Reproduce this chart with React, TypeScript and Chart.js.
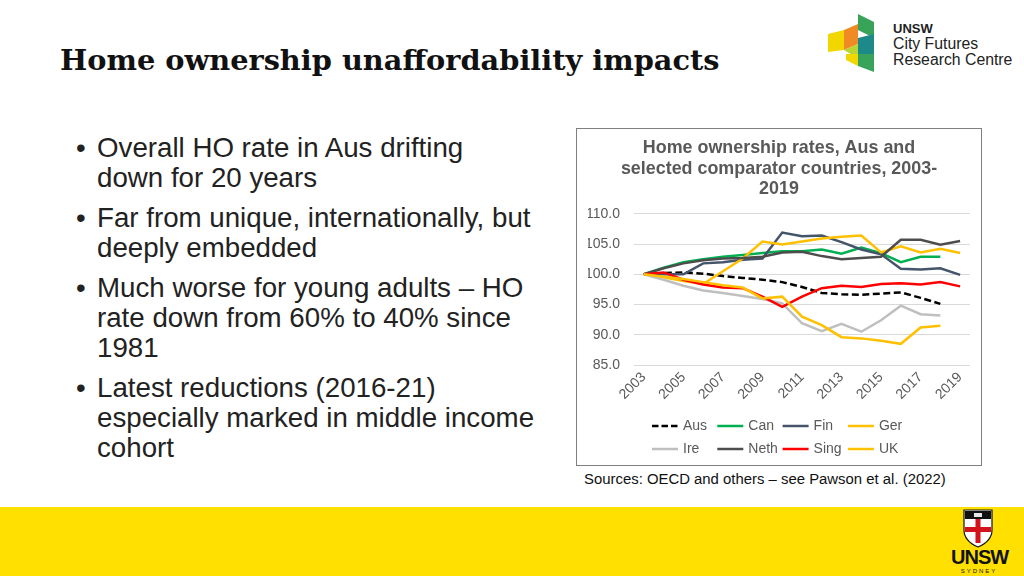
import React, { useEffect, useRef } from "react";
import { Chart, registerables } from "chart.js";

Chart.register(...registerables);

const years = ["2003","2004","2005","2006","2007","2008","2009","2010","2011","2012","2013","2014","2015","2016","2017","2018","2019"];
const aus = [100, 100.2, 100.3, 100.1, 99.7, 99.4, 99.1, 98.7, 97.9, 96.9, 96.7, 96.6, 96.8, 97.0, 96.1, 95.1];
const can = [100, 101.1, 102.0, 102.5, 102.9, 103.2, 103.5, 103.8, 103.8, 104.1, 103.4, 104.4, 103.5, 102.0, 102.9, 102.9];
const fin = [100, 100.0, 100.0, 101.8, 102.0, 102.4, 102.6, 106.9, 106.3, 106.4, 105.3, 104.1, 103.3, 100.9, 100.8, 101.0, 99.9];
const ger = [100, 99.5, 98.9, 98.4, 100.5, 102.6, 105.4, 104.9, 105.4, 105.9, 106.2, 106.4, 103.6, 104.6, 103.6, 104.2, 103.5];
const ire = [100, 99.1, 98.1, 97.3, 96.9, 96.4, 95.9, 95.2, 91.9, 90.6, 91.8, 90.5, 92.4, 94.8, 93.4, 93.2];
const neth = [100, 101.0, 101.8, 102.3, 102.6, 102.7, 102.9, 103.6, 103.7, 103.0, 102.5, 102.7, 102.9, 105.7, 105.7, 104.9, 105.5];
const sing = [100, 100.3, 99.1, 98.3, 97.8, 97.7, 96.3, 94.6, 96.3, 97.7, 98.1, 97.9, 98.4, 98.5, 98.3, 98.7, 98.0];
const uk = [100, 99.6, 99.2, 98.7, 98.2, 97.8, 96.0, 96.3, 93.0, 91.6, 89.6, 89.4, 89.0, 88.5, 91.2, 91.5];

const seriesNames = ["Aus", "Can", "Fin", "Ger", "Ire", "Neth", "Sing", "UK"];
const seriesData = [aus, can, fin, ger, ire, neth, sing, uk];
const seriesColors = ["#000000", "#00B050", "#44546A", "#FFC000", "#BFBFBF", "#4d4d4d", "#FF0000", "#FFC000"];

const yTicksMin = 85;
const yTicksMax = 110;
const yStep = 5;

const titleLines = ["Home ownership rates, Aus and", "selected comparator countries, 2003-", "2019"];

const FONT = "'Liberation Sans', Arial, sans-serif";

const legendPlugin = {
  id: "gridLegend",
  afterDraw(chart: any) {
    const ctx = chart.ctx;
    const area = chart.chartArea;
    const x0 = area.left + 18;
    const y0 = area.bottom + 61;
    const colW = 65.3;
    const rowH = 23;
    const lineW = 26;
    chart.data.datasets.forEach((ds: any, i: number) => {
      const col = i % 4;
      const row = Math.floor(i / 4);
      const x = x0 + col * colW;
      const y = y0 + row * rowH;
      ctx.save();
      ctx.strokeStyle = ds.borderColor;
      ctx.lineWidth = 2.5;
      ctx.setLineDash(ds.borderDash ? [6.5, 3] : []);
      ctx.beginPath();
      ctx.moveTo(x, y);
      ctx.lineTo(x + lineW, y);
      ctx.stroke();
      ctx.restore();
      ctx.save();
      ctx.fillStyle = "#595959";
      ctx.font = `14px ${FONT}`;
      ctx.textBaseline = "middle";
      ctx.fillText(ds.label, x + lineW + 5, y);
      ctx.restore();
    });
  },
};

function HOChart() {
  const ref = useRef<HTMLCanvasElement | null>(null);
  useEffect(() => {
    if (!ref.current) return;
    const chart = new Chart(ref.current, {
      type: "line",
      data: {
        labels: years,
        datasets: seriesNames.map((name, i) => ({
          label: name,
          data: seriesData[i],
          borderColor: seriesColors[i],
          backgroundColor: seriesColors[i],
          borderWidth: 2.5,
          borderDash: name === "Aus" ? [7, 3.5] : undefined,
          pointRadius: 0,
          tension: 0,
          fill: false,
          order: seriesNames.length - i,
        })),
      },
      options: {
        animation: false,
        responsive: false,
        maintainAspectRatio: false,
        layout: { padding: { left: 11, right: 11, top: 0, bottom: 55 } },
        plugins: {
          legend: { display: false },
          tooltip: { enabled: false },
          title: {
            display: true,
            text: titleLines,
            color: "#595959",
            font: { family: FONT, size: 17.9, weight: "bold", lineHeight: 1.15 },
            padding: { top: 9, bottom: 14 },
          },
        },
        scales: {
          x: {
            type: "category",
            offset: true,
            grid: { display: false, drawTicks: false },
            border: { display: false },
            ticks: {
              autoSkip: false,
              maxRotation: 45,
              minRotation: 45,
              padding: 4,
              color: "#595959",
              font: { family: FONT, size: 14 },
              callback: (_v: any, i: number) => (i % 2 === 0 ? years[i] : ""),
            },
            afterFit: (s: any) => { s.height = 45; },
          },
          y: {
            min: yTicksMin,
            max: yTicksMax,
            grid: { color: "#d9d9d9", drawTicks: false, lineWidth: 1 },
            border: { display: false },
            ticks: {
              stepSize: yStep,
              padding: 14,
              color: "#595959",
              font: { family: FONT, size: 14 },
              callback: (v: any) => Number(v).toFixed(1),
            },
            afterFit: (s: any) => { s.width = 46; },
          },
        },
      },
      plugins: [legendPlugin],
    });
    return () => chart.destroy();
  }, []);
  return <canvas ref={ref} width={404} height={336} style={{ display: "block", width: 404, height: 336 }} />;
}

const bullets = [
  { top: 133, lines: ["Overall HO rate in Aus drifting", "down for 20 years"] },
  { top: 203, lines: ["Far from unique, internationally, but", "deeply embedded"] },
  { top: 273, lines: ["Much worse for young adults \u2013 HO", "rate down from 60% to 40% since", "1981"] },
  { top: 373, lines: ["Latest reductions (2016-21)", "especially marked in middle income", "cohort"] },
];

function CityLogo() {
  return (
    <svg width={60} height={66} viewBox="0 0 60 66" style={{ position: "absolute", left: 824, top: 10 }}>
      <polygon points="34,4 50,12 50,28 34,20" fill="#3aa35a" />
      <polygon points="20,20 34,14 34,34 20,40" fill="#f08a24" />
      <polygon points="4,24 20,20 20,40 4,42" fill="#f2d600" />
      <polygon points="20,40 34,34 44,40 30,46" fill="#b9d532" />
      <polygon points="34,28 50,24 50,44 34,44" fill="#1d8a8a" />
      <polygon points="34,44 50,44 50,62 34,56" fill="#37a35b" />
      <polygon points="22,44 34,44 34,56 22,50" fill="#f2d600" />
    </svg>
  );
}

function Crest() {
  return (
    <svg width={34} height={40} viewBox="0 0 34 40" style={{ position: "absolute", left: 961, top: 508 }}>
      <path d="M3,2 H31 V22 C31,31 24,36 17,39 C10,36 3,31 3,22 Z" fill="#ffffff" stroke="#111" strokeWidth={1.2} />
      <rect x={4} y={3} width={26} height={8} fill="#111" />
      <rect x={14.5} y={11} width={5} height={24} fill="#d3121b" />
      <rect x={4} y={19} width={26} height={5} fill="#d3121b" />
      <rect x={13} y={5} width={8} height={4} fill="#e8e8e8" />
    </svg>
  );
}

export default function App() {
  const textStyle: React.CSSProperties = {
    position: "absolute",
    fontFamily: FONT,
    fontSize: 27.7,
    lineHeight: "30px",
    color: "#222",
    whiteSpace: "nowrap",
  };
  return (
    <div style={{ position: "fixed", left: 0, top: 0, width: 1024, height: 576, background: "#fff", overflow: "hidden" }}>
      <div
        style={{
          position: "absolute",
          left: 60,
          top: 43,
          fontFamily: "'DejaVu Serif', serif",
          fontWeight: "bold",
          fontSize: 28.8,
          lineHeight: "34px",
          color: "#111",
          whiteSpace: "nowrap",
        }}
      >
        Home ownership unaffordability impacts
      </div>

      <CityLogo />
      <div style={{ position: "absolute", left: 893, top: 21, fontFamily: FONT, fontWeight: "bold", fontSize: 13, lineHeight: "16px", color: "#222" }}>UNSW</div>
      <div style={{ position: "absolute", left: 893, top: 36, fontFamily: FONT, fontSize: 15.8, lineHeight: "16px", color: "#222", whiteSpace: "nowrap" }}>City Futures</div>
      <div style={{ position: "absolute", left: 893, top: 52, fontFamily: FONT, fontSize: 15.8, lineHeight: "16px", color: "#222", whiteSpace: "nowrap" }}>Research Centre</div>

      {bullets.map((b, i) => (
        <React.Fragment key={i}>
          <div style={{ ...textStyle, left: 76, top: b.top }}>{"\u2022"}</div>
          <div style={{ ...textStyle, left: 97, top: b.top }}>
            {b.lines.map((l, j) => (
              <div key={j}>{l}</div>
            ))}
          </div>
        </React.Fragment>
      ))}

      <div
        style={{
          position: "absolute",
          left: 576,
          top: 128,
          width: 406,
          height: 338,
          border: "1px solid #7f7f7f",
          boxSizing: "border-box",
          background: "#fff",
        }}
      >
        <HOChart />
      </div>

      <div style={{ position: "absolute", left: 584, top: 470, fontFamily: FONT, fontSize: 14.9, lineHeight: "18px", color: "#111", whiteSpace: "nowrap" }}>
        Sources: OECD and others {"\u2013"} see Pawson et al. (2022)
      </div>

      <div style={{ position: "absolute", left: 0, top: 507, width: 1024, height: 69, background: "#FFE000" }} />
      <Crest />
      <div style={{ position: "absolute", left: 951, top: 546, width: 56, textAlign: "center", fontFamily: "'Liberation Sans Narrow', 'Liberation Sans', sans-serif", fontWeight: "bold", fontSize: 20, lineHeight: "22px", color: "#111", letterSpacing: -1 }}>UNSW</div>
      <div style={{ position: "absolute", left: 951, top: 567, width: 56, textAlign: "center", fontFamily: FONT, fontSize: 6, lineHeight: "8px", color: "#111", letterSpacing: 2 }}>SYDNEY</div>
    </div>
  );
}
